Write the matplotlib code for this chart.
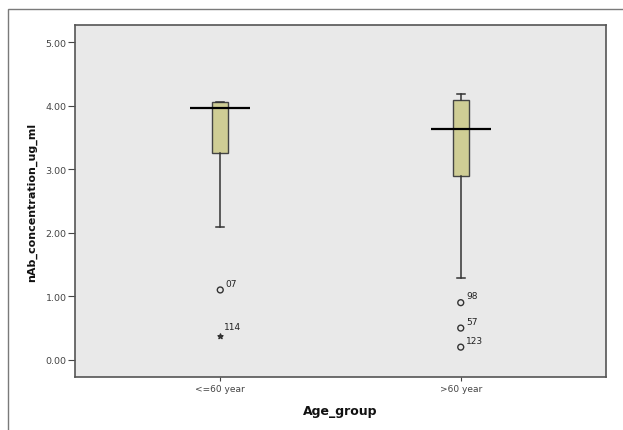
import matplotlib
matplotlib.use("Agg")
import matplotlib.pyplot as plt
from matplotlib.patches import Rectangle

categories = ["<=60 year", ">60 year"]
q1 = [3.25, 2.89]
q3 = [4.06, 4.09]
medians = [3.97, 3.64]
whisker_low = [2.09, 1.29]
whisker_high = [4.06, 4.19]

outlier_group = [0, 1, 1, 1]
outlier_values = [1.10, 0.90, 0.50, 0.20]
outlier_labels = ["07", "98", "57", "123"]
extreme_group = [0]
extreme_values = [0.38]
extreme_labels = ["114"]

yticks = [0.0, 1.0, 2.0, 3.0, 4.0, 5.0]

fig = plt.figure(figsize=(6.23, 4.31), dpi=100)
fig.patch.set_facecolor("white")
fig.add_artist(Rectangle((8/623, -0.05), 1.1, 1 - 10/431 + 0.05,
                         transform=fig.transFigure, fill=False,
                         edgecolor="#7a7a7a", linewidth=1.0))

ax = fig.add_axes([75/623, 1 - 378/431, (606 - 75)/623, (378 - 26)/431])
ax.set_facecolor("#e9e9e9")

positions = [1, 2]
stats = []
for i, c in enumerate(categories):
    stats.append(dict(label=c, med=medians[i], q1=q1[i], q3=q3[i],
                      whislo=whisker_low[i], whishi=whisker_high[i], fliers=[]))

ax.bxp(stats, positions=positions, widths=0.067, patch_artist=True,
       showfliers=False,
       boxprops=dict(facecolor="#cfcd95", edgecolor="#444444", linewidth=1.0),
       whiskerprops=dict(color="#333333", linewidth=1.1),
       capprops=dict(color="#333333", linewidth=1.1),
       medianprops=dict(visible=False))
ax.hlines(medians, [p - 0.125 for p in positions], [p + 0.125 for p in positions],
          colors="black", linewidth=1.6, zorder=5)

ox = [positions[g] for g in outlier_group]
ax.scatter(ox, outlier_values, s=18, facecolors="none", edgecolors="#333333",
           linewidths=1.0, zorder=6)
for x, y, t in zip(ox, outlier_values, outlier_labels):
    ax.annotate(t, (x, y), xytext=(4, 3), textcoords="offset points",
                fontsize=6.5, color="#222222")
ex = [positions[g] for g in extreme_group]
ax.scatter(ex, extreme_values, marker="*", s=14, color="#333333", zorder=6)
for x, y, t in zip(ex, extreme_values, extreme_labels):
    ax.annotate(t, (x, y), xytext=(3, 5), textcoords="offset points",
                fontsize=6.5, color="#222222")

ax.set_xlim(0.396, 2.604)
ax.set_ylim(-0.27, 5.27)
ax.set_yticks(yticks)
ax.set_yticklabels([f"{v:.2f}" for v in yticks])
ax.set_xticks(positions)
ax.set_xticklabels(categories)
ax.tick_params(axis="y", labelsize=6.8, labelcolor="#444444", length=5,
               width=0.8, color="#444444", pad=1)
ax.tick_params(axis="x", labelsize=6.5, labelcolor="#444444", length=3,
               width=0.8, color="#444444", pad=2)
for s in ax.spines.values():
    s.set_color("#555555")
    s.set_linewidth(1.2)

ax.set_ylabel("nAb_concentration_ug_ml", fontsize=8, fontweight="bold",
              color="#111111", labelpad=6)
ax.set_xlabel("Age_group", fontsize=9, fontweight="bold", color="#111111",
              labelpad=8)

fig.savefig("out.png", dpi=100)
